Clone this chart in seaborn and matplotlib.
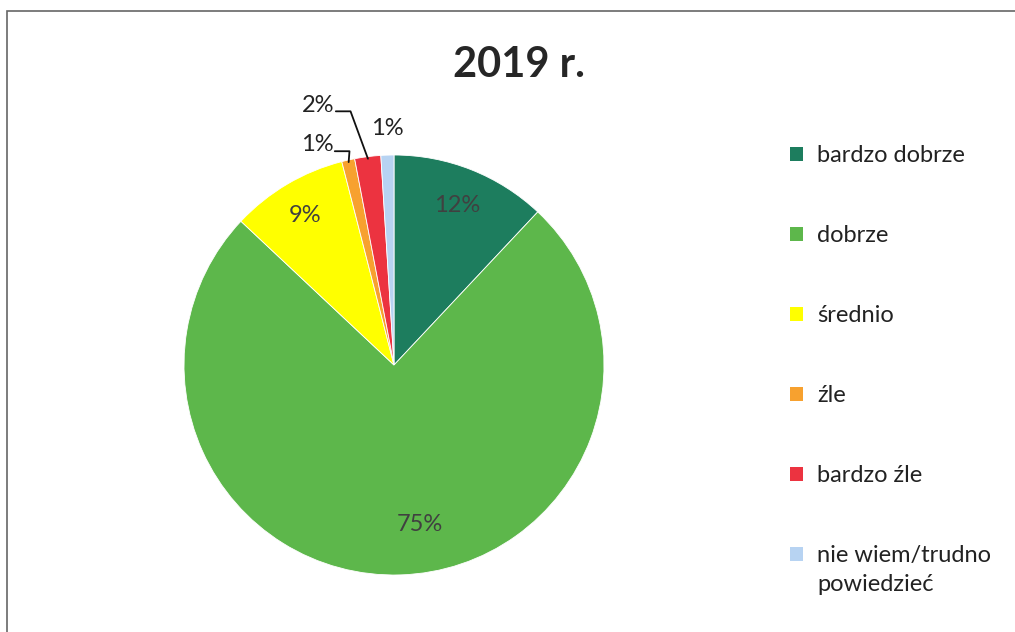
import matplotlib
matplotlib.use("Agg")
import matplotlib.pyplot as plt
import seaborn as sns
import numpy as np
from matplotlib.patches import Rectangle

categories = ["bardzo dobrze", "dobrze", "średnio", "źle", "bardzo źle", "nie wiem/trudno\npowiedzieć"]
values = [12, 75, 9, 1, 2, 1]
labels = ["12%", "75%", "9%", "1%", "2%", "1%"]
colors = ["#1d7d5e", "#5db74b", "#ffff00", "#f7a12f", "#ec3340", "#b7d3f2"]
title = "2019 r."

sns.set_theme(style="white")
plt.rcParams["font.family"] = ["Lato", "DejaVu Sans"]

fig = plt.figure(figsize=(10.15, 6.32), dpi=100)
fig.patch.set_facecolor("white")

# outer frame (left and top visible)
fig.patches.append(Rectangle((7/1015, -0.1), 1.2, (632-11)/632 + 0.1,
                             transform=fig.transFigure, fill=False,
                             edgecolor="#666666", linewidth=1.2))

ax = fig.add_axes([(394-210)/1015, (632-575)/632, 420/1015, 420/632])
wedges, _ = ax.pie(values, colors=colors, startangle=90, counterclock=False,
                   radius=1.0, wedgeprops=dict(edgecolor="white", linewidth=0.6))
ax.set_xlim(-1, 1)
ax.set_ylim(-1, 1)
ax.set_aspect("equal")
ax.axis("off")

FS = 17
inside = {0: (0.30, 0.76), 1: (0.124, -0.76), 2: (-0.424, 0.714)}
for i, (x, y) in inside.items():
    ax.text(x, y, labels[i], ha="center", va="center", fontsize=FS, color="#404040")

def wedge_point(w, r=1.0):
    ang = np.deg2rad((w.theta1 + w.theta2) / 2)
    return r * np.cos(ang), r * np.sin(ang)

outside = {3: (-0.367, 1.048), 4: (-0.362, 1.238)}
for i, (x, y) in outside.items():
    px, py = wedge_point(wedges[i], 0.99)
    ax.text(x, y, labels[i], ha="center", va="center", fontsize=FS, color="#222222")
    xs = x + 0.085
    ax.plot([xs, xs + 0.07, px], [y - 0.03, y - 0.03, py], color="#111111", lw=1.3,
            clip_on=False)
ax.text(-0.033, 1.128, labels[5], ha="center", va="center", fontsize=FS, color="#222222")

fig.text(519/1015, 1 - 65/632, title, ha="center", va="center", fontsize=30,
         fontweight="bold", color="#262626")

# legend: first line of each label; extra lines placed beneath
first_lines = [c.split("\n")[0] for c in categories]
leg = fig.legend(wedges, first_lines, loc="upper left",
                 bbox_to_anchor=(769/1015, 1 - 124/632), frameon=False,
                 fontsize=FS, labelspacing=2.5, handlelength=0.55,
                 handleheight=0.55, handletextpad=0.6, labelcolor="#222222")
for h in leg.legend_handles:
    h.set_edgecolor("none")

fig.canvas.draw()
renderer = fig.canvas.get_renderer()
for c, t in zip(categories, leg.get_texts()):
    extra = c.split("\n")[1:]
    if not extra:
        continue
    bb = t.get_window_extent(renderer)
    for k, line in enumerate(extra, start=1):
        fig.text(bb.x0 / fig.bbox.width, (bb.y0 - 33 * k + 4) / fig.bbox.height, line,
                 ha="left", va="bottom", fontsize=FS, color="#222222")

fig.savefig("out.png", dpi=100)
